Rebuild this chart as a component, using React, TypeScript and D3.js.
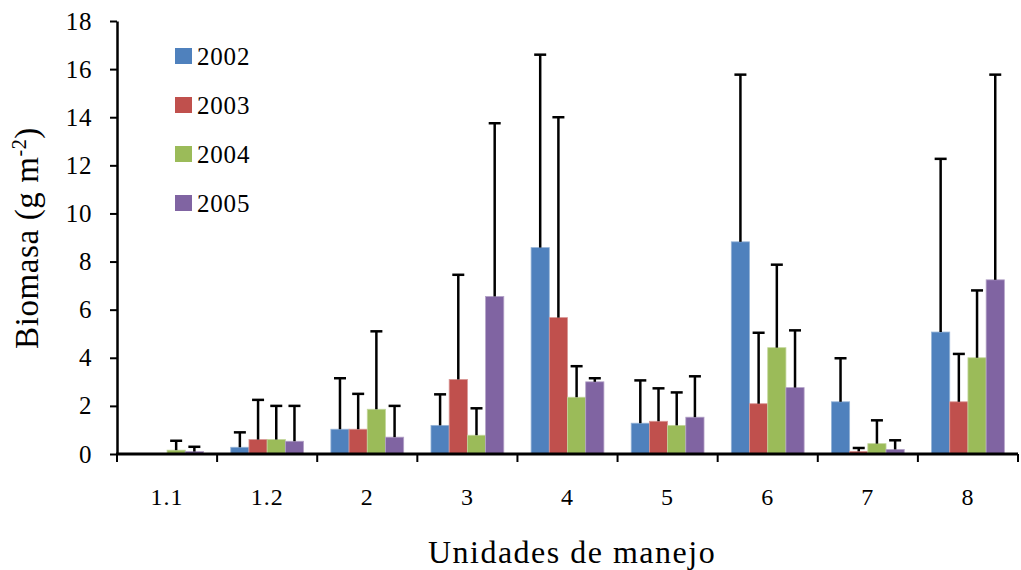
import React, { useEffect, useRef } from "react";
import * as d3 from "d3";

// categories (management units) and years
const units = ["1.1", "1.2", "2", "3", "4", "5", "6", "7", "8"];
const years = ["2002", "2003", "2004", "2005"];

// mean biomass per year, one value per unit
const mean2002 = [0, 0.28, 1.03, 1.19, 8.58, 1.28, 8.82, 2.17, 5.07];
const mean2003 = [0, 0.6, 1.03, 3.1, 5.67, 1.36, 2.09, 0.11, 2.17];
const mean2004 = [0.16, 0.6, 1.86, 0.78, 2.36, 1.19, 4.42, 0.43, 4.0];
const mean2005 = [0.1, 0.53, 0.7, 6.55, 3.0, 1.53, 2.76, 0.19, 7.24];

// top of the error bar (mean + error)
const top2002 = [0, 0.9, 3.15, 2.48, 16.6, 3.06, 15.77, 3.98, 12.27];
const top2003 = [0, 2.25, 2.5, 7.45, 14.0, 2.73, 5.04, 0.25, 4.16];
const top2004 = [0.55, 2.0, 5.1, 1.9, 3.65, 2.56, 7.87, 1.4, 6.8];
const top2005 = [0.3, 2.0, 2.0, 13.75, 3.15, 3.23, 5.14, 0.57, 15.77];

const yTicks = [0, 2, 4, 6, 8, 10, 12, 14, 16, 18];
const colors = ["#4F81BD", "#C0504D", "#9BBB59", "#8064A2"];
const strokes = ["#95B3D7", "#D99694", "#C3D69B", "#B3A2C7"];

const FONT = "Liberation Serif, DejaVu Serif, Times New Roman, serif";

export default function App() {
  const ref = useRef<SVGSVGElement>(null);

  useEffect(() => {
    const means = [mean2002, mean2003, mean2004, mean2005];
    const tops = [top2002, top2003, top2004, top2005];

    const data = units.map((u, i) => ({
      unit: u,
      values: years.map((y, j) => ({ year: y, mean: means[j][i], top: tops[j][i], idx: j })),
    }));

    const svg = d3.select(ref.current);
    svg.selectAll("*").remove();

    const left = 117, right = 1018, top = 21, bottom = 454;

    const x = d3.scaleBand().domain(units).range([left, right]).padding(0);
    const xInner = d3.scaleBand().domain(years).range([0, x.bandwidth()]).paddingInner(0).paddingOuter(0.75);
    const y = d3.scaleLinear().domain([0, 18]).range([bottom, top]);

    const groups = svg.selectAll(".grp")
      .data(data)
      .join("g")
      .attr("transform", d => `translate(${x(d.unit)},0)`);

    // bars
    groups.selectAll("rect")
      .data(d => d.values.filter(v => v.mean > 0))
      .join("rect")
      .attr("x", d => xInner(d.year)!)
      .attr("y", d => y(d.mean))
      .attr("width", xInner.bandwidth())
      .attr("height", d => y(0) - y(d.mean))
      .attr("fill", d => colors[d.idx])
      .attr("stroke", d => strokes[d.idx])
      .attr("stroke-width", 0.8);

    // error bars (upper only)
    const errs = groups.selectAll(".err")
      .data(d => d.values.filter(v => v.top > v.mean))
      .join("g")
      .attr("class", "err");
    errs.append("line")
      .attr("x1", d => xInner(d.year)! + xInner.bandwidth() / 2)
      .attr("x2", d => xInner(d.year)! + xInner.bandwidth() / 2)
      .attr("y1", d => y(d.mean))
      .attr("y2", d => y(d.top))
      .attr("stroke", "#000")
      .attr("stroke-width", 2.5);
    errs.append("line")
      .attr("x1", d => xInner(d.year)! + xInner.bandwidth() / 2 - 6)
      .attr("x2", d => xInner(d.year)! + xInner.bandwidth() / 2 + 6)
      .attr("y1", d => y(d.top))
      .attr("y2", d => y(d.top))
      .attr("stroke", "#000")
      .attr("stroke-width", 2.5);

    // y axis
    const yAxis = svg.append("g")
      .attr("transform", `translate(${left},0)`)
      .call(d3.axisLeft(y).tickValues(yTicks).tickSize(7).tickPadding(18).tickSizeOuter(0));
    yAxis.select(".domain").attr("stroke", "#000").attr("stroke-width", 2.5);
    yAxis.selectAll(".tick line").attr("stroke", "#000").attr("stroke-width", 2);
    yAxis.selectAll(".tick text")
      .attr("font-family", FONT)
      .attr("font-size", 25)
      .attr("letter-spacing", 0.6)
      .attr("fill", "#000");

    // x axis: line and ticks between categories
    const xg = svg.append("g");
    xg.append("line")
      .attr("x1", left - 1).attr("x2", right)
      .attr("y1", bottom).attr("y2", bottom)
      .attr("stroke", "#000").attr("stroke-width", 3);
    const edges = units.map(u => x(u)!).concat([right]);
    xg.selectAll(".xt")
      .data(edges)
      .join("line")
      .attr("x1", d => d).attr("x2", d => d)
      .attr("y1", bottom).attr("y2", bottom + 8)
      .attr("stroke", "#000").attr("stroke-width", 2);
    xg.selectAll(".xl")
      .data(units)
      .join("text")
      .attr("x", d => x(d)! + x.bandwidth() / 2)
      .attr("y", 505)
      .attr("text-anchor", "middle")
      .attr("font-family", FONT)
      .attr("font-size", 24)
      .attr("letter-spacing", 1)
      .text(d => d);

    // axis titles
    svg.append("text")
      .attr("x", 572)
      .attr("y", 563)
      .attr("text-anchor", "middle")
      .attr("font-family", FONT)
      .attr("font-size", 32)
      .attr("letter-spacing", 1.5)
      .text("Unidades de manejo");

    const yt = svg.append("text")
      .attr("transform", "translate(38,238) rotate(-90)")
      .attr("text-anchor", "middle")
      .attr("font-family", FONT)
      .attr("font-size", 33)
      .attr("letter-spacing", 0.6);
    yt.append("tspan").text("Biomasa (g m");
    yt.append("tspan").attr("font-size", 20).attr("dy", -12).text("-2");
    yt.append("tspan").attr("dy", 12).text(")");

    // legend
    const legend = svg.append("g").attr("transform", "translate(175,48)");
    years.forEach((yr, i) => {
      legend.append("rect")
        .attr("x", 0).attr("y", i * 49)
        .attr("width", 17).attr("height", 16)
        .attr("fill", colors[i]);
      legend.append("text")
        .attr("x", 22).attr("y", i * 49 + 17)
        .attr("font-family", FONT)
        .attr("font-size", 25)
        .attr("letter-spacing", 0.8)
        .text(yr);
    });
  }, []);

  return (
    <div>
      <svg ref={ref} width={1021} height={570}
        style={{ position: "absolute", left: 0, top: 0, background: "#fff" }} />
    </div>
  );
}
